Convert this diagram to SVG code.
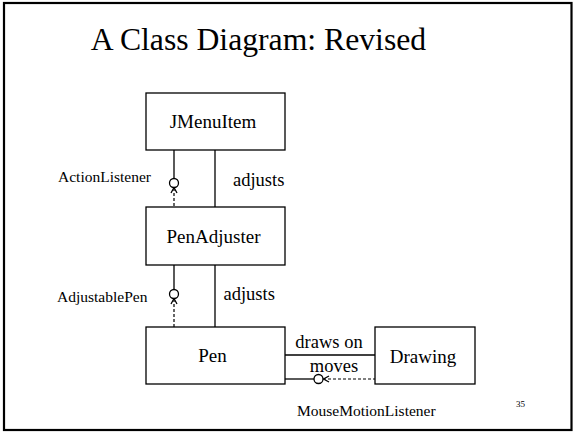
<svg xmlns="http://www.w3.org/2000/svg" width="574" height="433" viewBox="0 0 574 433">
<style>
.box{fill:#fff;stroke:#000;stroke-width:1.3}
.nm{font-size:19px;text-anchor:middle}
.lb{font-size:18.5px}
.sm{font-size:15.5px}
.ln{stroke:#000;stroke-width:1.3;fill:none}
.dash{stroke:#000;stroke-width:1.2;fill:none;stroke-dasharray:3,2}
.ic{fill:#fff;stroke:#000;stroke-width:1.3}
</style>
<rect x="0" y="0" width="574" height="433" fill="#fff"/>
<rect x="4" y="3" width="567.5" height="427" fill="#fff" stroke="#000" stroke-width="2.2"/>
<g font-family="Liberation Serif, Times New Roman, DejaVu Serif, serif" fill="#000">
<text x="258.5" y="50" font-size="31.7" text-anchor="middle">A Class Diagram: Revised</text>
<g id="connectors">
<line class="ln" x1="215" y1="150" x2="215" y2="207"/>
<line class="ln" x1="174" y1="150" x2="174" y2="178"/>
<line class="dash" x1="174" y1="188" x2="174" y2="207"/>
<polyline class="ln" stroke-width="1" points="171,193 174,187.5 177,193"/>
<circle class="ic" cx="174" cy="183" r="4.5"/>
<text class="sm" x="58" y="182">ActionListener</text>
<text class="lb" x="233" y="186">adjusts</text>
<line class="ln" x1="215" y1="265" x2="215" y2="327"/>
<line class="ln" x1="174" y1="265" x2="174" y2="289"/>
<line class="dash" x1="174" y1="299" x2="174" y2="327"/>
<polyline class="ln" stroke-width="1" points="171,304 174,298.5 177,304"/>
<circle class="ic" cx="174" cy="294" r="4.5"/>
<text class="sm" x="57" y="301.5">AdjustablePen</text>
<text class="lb" x="223.5" y="300">adjusts</text>
<line class="ln" x1="285" y1="355" x2="375" y2="355"/>
<text class="lb" x="329" y="347.5" text-anchor="middle">draws on</text>
<line class="ln" x1="285" y1="379" x2="314" y2="379"/>
<line class="dash" x1="323" y1="379" x2="375" y2="379"/>
<polyline class="ln" stroke-width="1" points="329,376 323.5,379 329,382"/>
<circle class="ic" cx="318.5" cy="379" r="4.5"/>
<text class="lb" x="334" y="372" text-anchor="middle">moves</text>
<text class="sm" x="297" y="416" font-size="14.5">MouseMotionListener</text>
</g>
<g id="JMenuItem">
<rect class="box" x="146" y="93" width="139" height="57"/>
<text class="nm" x="213" y="128">JMenuItem</text>
</g>
<g id="PenAdjuster">
<rect class="box" x="146" y="207" width="139" height="58"/>
<text class="nm" x="213.5" y="243">PenAdjuster</text>
</g>
<g id="Pen">
<rect class="box" x="146" y="327" width="139" height="57"/>
<text class="nm" x="212.5" y="362">Pen</text>
</g>
<g id="Drawing">
<rect class="box" x="375" y="327" width="100" height="57"/>
<text class="nm" x="423" y="363">Drawing</text>
</g>
<text x="520.5" y="407" font-size="9" text-anchor="middle">35</text>
</g>
</svg>
